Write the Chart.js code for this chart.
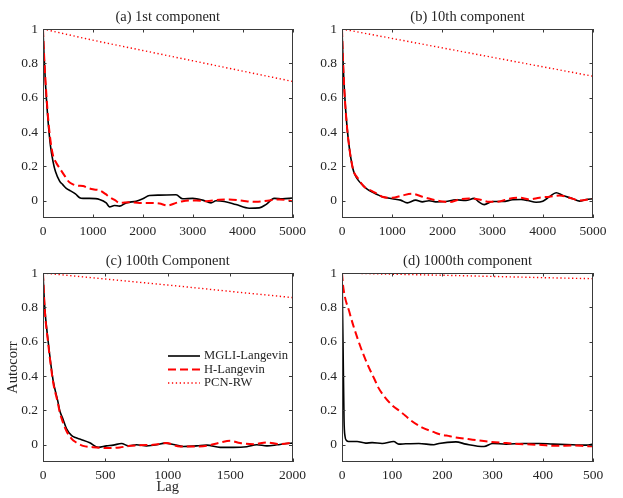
<!DOCTYPE html>
<html><head><meta charset="utf-8">
<script src="https://cdn.jsdelivr.net/npm/chart.js@4.4.1/dist/chart.umd.min.js"></script>
<style>
html,body{margin:0;padding:0;background:#fff;}
#wrap{position:relative;width:623px;height:498px;overflow:hidden;}
.cell{position:absolute;}
</style></head><body>
<div id="wrap">
<div class="cell" style="left:0;top:0;width:311px;height:240px"><canvas id="ca"></canvas></div>
<div class="cell" style="left:311px;top:0;width:312px;height:240px"><canvas id="cb"></canvas></div>
<div class="cell" style="left:0;top:240px;width:311px;height:258px"><canvas id="cc"></canvas></div>
<div class="cell" style="left:311px;top:240px;width:312px;height:258px"><canvas id="cd"></canvas></div>
</div>
<script>
// ---------- tick labels ----------
const yTicks = [0, 0.2, 0.4, 0.6, 0.8, 1];
const xTicksAB = [0, 1000, 2000, 3000, 4000, 5000];
const xTicksC = [0, 500, 1000, 1500, 2000];
const xTicksD = [0, 100, 200, 300, 400, 500];
const seriesNames = ['MGLI-Langevin', 'H-Langevin', 'PCN-RW'];
const titles = ['(a) 1st component', '(b) 10th component', '(c) 100th Component', '(d) 1000th component'];

// ---------- (a) 1st component ----------
const lagA_mgli = [0,20,50,100,150,200,250,333,400,467,550,650,735,800,933,1133,1267,1333,1433,1533,1667,1867,2000,2133,2333,2667,2800,3000,3200,3367,3467,3633,3867,4133,4333,4467,4633,4800,5000];
const valA_mgli = [1,0.85,0.68,0.47,0.32,0.23,0.17,0.115,0.093,0.072,0.058,0.04,0.018,0.014,0.014,0.008,-0.012,-0.035,-0.027,-0.031,-0.012,-0.002,0.012,0.031,0.033,0.035,0.012,0.014,0.004,-0.012,0,-0.004,-0.022,-0.043,-0.041,-0.022,0.014,0.012,0.016];
const lagA_h = [0,20,50,100,150,200,267,333,435,520,600,700,800,900,1000,1133,1250,1333,1450,1533,1733,1933,2133,2333,2500,2667,2800,3067,3267,3533,3733,4000,4267,4533,4733,5000];
const valA_h = [1,0.86,0.7,0.49,0.35,0.265,0.22,0.19,0.145,0.11,0.096,0.088,0.086,0.075,0.067,0.061,0.04,0.022,0.002,-0.012,-0.008,-0.012,-0.012,-0.016,-0.027,-0.012,-0.002,0.002,-0.002,0.006,0.008,0,-0.006,0.002,0.008,-0.002];
const lagA_pcn = [0,1000,2000,3000,4000,5000];
const valA_pcn = [1,0.935,0.875,0.815,0.755,0.695];

// ---------- (b) 10th component ----------
const lagB_mgli = [0,20,50,100,150,200,233,280,333,400,467,600,700,800,1000,1167,1300,1467,1600,1733,1867,2067,2267,2467,2633,2733,2833,3000,3200,3400,3567,3700,3867,4000,4133,4267,4400,4600,4733,4867,5000];
const valB_mgli = [1,0.82,0.63,0.43,0.3,0.21,0.17,0.14,0.116,0.095,0.076,0.051,0.037,0.024,0.012,0.004,-0.012,0.004,-0.006,0,-0.006,-0.004,0.006,0.002,0.014,-0.008,-0.022,-0.004,-0.004,0.006,0.008,0.002,-0.008,-0.002,0.024,0.047,0.031,0.012,-0.002,0.008,0.012];
const lagB_h = [0,20,50,100,150,200,233,280,333,400,467,600,700,800,1000,1200,1400,1600,1800,2000,2133,2333,2533,2733,2933,3133,3333,3533,3733,3933,4133,4333,4533,4733,5000];
const valB_h = [1,0.82,0.63,0.43,0.3,0.21,0.17,0.145,0.125,0.095,0.076,0.057,0.04,0.024,0.018,0.031,0.041,0.024,0.008,-0.004,-0.008,0.008,0.014,0.008,-0.006,-0.004,0.012,0.018,0.008,0.018,0.024,0.031,0.018,0.002,0.012];
const lagB_pcn = [0,1000,2000,3000,4000,5000];
const valB_pcn = [1,0.945,0.89,0.835,0.78,0.725];

// ---------- (c) 100th component ----------
const lagC_mgli = [0,13,40,80,120,134,160,188,228,260,300,375,442,509,563,630,683,750,830,911,978,1045,1125,1232,1313,1420,1527,1634,1714,1795,1875,1955,2000];
const valC_mgli = [1,0.81,0.61,0.38,0.25,0.2,0.15,0.095,0.055,0.042,0.032,0.012,-0.015,-0.006,-0.002,0.008,-0.006,0,-0.006,0,0.01,0.002,-0.01,-0.006,-0.002,-0.015,-0.015,-0.011,0,-0.006,0,0.008,0.01];
const lagC_h = [0,13,40,80,120,134,160,188,228,268,321,429,536,616,697,777,884,991,1098,1206,1313,1420,1500,1580,1688,1795,1902,2000];
const valC_h = [1,0.8,0.6,0.37,0.24,0.19,0.13,0.08,0.036,0.013,-0.006,-0.015,-0.019,-0.015,-0.006,-0.002,0,0.01,-0.01,-0.01,-0.006,0.013,0.023,0.01,0.004,0.013,0.004,0.013];
const lagC_pcn = [0,500,1000,1500,2000];
const valC_pcn = [1,0.965,0.93,0.893,0.857];

// ---------- (d) 1000th component ----------
const lagD_mgli = [0,2,4,6,9,13,30,47,60,80,103,113,127,153,183,193,227,247,283,300,327,360,393,420,460,487,500];
const valD_mgli = [1,0.6,0.15,0.05,0.025,0.019,0.019,0.01,0.013,0.008,0.019,0.004,0.006,0.008,0,0.008,0.017,0.004,-0.01,0.008,0.004,0.008,0.008,0.004,0,-0.002,0.004];
const lagD_h = [0,2,15,32,49,65,73,82,100,115,127,135,160,182,193,215,227,260,293,327,360,393,427,460,493,500];
const valD_h = [1,0.93,0.77,0.61,0.48,0.38,0.33,0.29,0.23,0.196,0.168,0.147,0.1,0.075,0.063,0.05,0.043,0.03,0.018,0.01,0.004,0,-0.006,-0.004,-0.008,-0.008];
const lagD_pcn = [0,100,200,300,400,500];
const valD_pcn = [1,0.993,0.987,0.98,0.973,0.967];

// ---------- helpers ----------
const TXT = '#262626';
const SERIF = '"Liberation Serif", "Times New Roman", serif';
function pts(l, v) { return l.map((x, i) => ({x: x, y: v[i]})); }
const styles = [
  {borderColor: '#000000', borderWidth: 1.6, borderDash: []},
  {borderColor: '#ff0000', borderWidth: 2, borderDash: [8, 4]},
  {borderColor: '#ff0000', borderWidth: 1.4, borderDash: [1.3, 2.6]}
];
function makeDatasets(groups) {
  return groups.map((g, i) => Object.assign({
    label: seriesNames[i], data: pts(g[0], g[1]), pointRadius: 0, fill: false,
    cubicInterpolationMode: 'monotone', order: 2 - i
  }, styles[i]));
}

const framePlugin = {
  id: 'frame',
  afterDatasetsDraw(chart, args, opts) {
    const {ctx, chartArea: a, scales: {x, y}} = chart;
    ctx.save();
    ctx.strokeStyle = '#3a3a3a';
    ctx.lineWidth = 1;
    ctx.setLineDash([]);
    ctx.strokeRect(Math.round(a.left) + 0.5, Math.round(a.top) + 0.5, Math.round(a.width) - 1, Math.round(a.height) - 1);
    const tl = 3.5;
    ctx.beginPath();
    x.ticks.forEach(t => {
      const px = Math.round(x.getPixelForValue(t.value)) + 0.5;
      ctx.moveTo(px, a.bottom); ctx.lineTo(px, a.bottom - tl);
      ctx.moveTo(px, a.top); ctx.lineTo(px, a.top + tl);
    });
    y.ticks.forEach(t => {
      const py = Math.round(y.getPixelForValue(t.value)) + 0.5;
      ctx.moveTo(a.left, py); ctx.lineTo(a.left + tl, py);
      ctx.moveTo(a.right, py); ctx.lineTo(a.right - tl, py);
    });
    ctx.stroke();
    // title
    ctx.fillStyle = TXT;
    ctx.font = '14.5px ' + SERIF;
    ctx.textAlign = 'center';
    ctx.textBaseline = 'middle';
    ctx.fillText(opts.title, (a.left + a.right) / 2, a.top - 12);
    // legend
    if (opts.legend) {
      const L = opts.legend;
      ctx.font = '12.6px ' + SERIF;
      ctx.textAlign = 'left';
      chart.data.datasets.forEach((ds, i) => {
        const yy = L.y + i * L.dy;
        ctx.beginPath();
        ctx.strokeStyle = ds.borderColor;
        ctx.lineWidth = ds.borderWidth;
        ctx.setLineDash(ds.borderDash);
        ctx.moveTo(L.x, yy); ctx.lineTo(L.x + L.len, yy);
        ctx.stroke();
        ctx.fillStyle = TXT;
        ctx.fillText(ds.label, L.x + L.len + 4, yy);
      });
    }
    ctx.restore();
  }
};

function makeChart(id, p) {
  new Chart(document.getElementById(id), {
    type: 'line',
    data: {datasets: makeDatasets(p.groups)},
    plugins: [framePlugin],
    options: {
      responsive: true, maintainAspectRatio: false, animation: false,
      layout: {padding: {top: p.padTop, right: p.padRight, left: 0, bottom: 0}},
      plugins: {legend: {display: false}, tooltip: {enabled: false},
        frame: {title: p.title, legend: p.legend}},
      scales: {
        x: {
          type: 'linear', min: 0, max: p.xMax,
          afterBuildTicks: s => { s.ticks = p.xTicks.map(v => ({value: v})); },
          afterFit: s => { s.height = p.xHeight; },
          grid: {display: false, drawTicks: false}, border: {display: false},
          ticks: {color: TXT, font: {family: SERIF, size: 13.5}, padding: 5, maxRotation: 0,
            callback: v => String(v)},
          title: {display: !!p.xTitle, text: p.xTitle || '', color: TXT,
            font: {family: SERIF, size: 14.5}, padding: {top: 0, bottom: 2}}
        },
        y: {
          type: 'linear', min: -0.1, max: 1,
          afterBuildTicks: s => { s.ticks = yTicks.map(v => ({value: v})); },
          afterFit: s => { s.width = p.yWidth; },
          grid: {display: false, drawTicks: false}, border: {display: false},
          ticks: {color: TXT, font: {family: SERIF, size: 13.5}, padding: 5,
            callback: v => String(v)},
          title: {display: !!p.yTitle, text: p.yTitle || '', color: TXT,
            font: {family: SERIF, size: 14.5}, padding: {top: 4, bottom: 0}}
        }
      }
    }
  });
}

makeChart('ca', {groups: [[lagA_mgli, valA_mgli], [lagA_h, valA_h], [lagA_pcn, valA_pcn]],
  title: titles[0], xMax: 5000, xTicks: xTicksAB, padTop: 29, padRight: 18, xHeight: 22, yWidth: 43});
makeChart('cb', {groups: [[lagB_mgli, valB_mgli], [lagB_h, valB_h], [lagB_pcn, valB_pcn]],
  title: titles[1], xMax: 5000, xTicks: xTicksAB, padTop: 29, padRight: 30, xHeight: 22, yWidth: 31});
makeChart('cc', {groups: [[lagC_mgli, valC_mgli], [lagC_h, valC_h], [lagC_pcn, valC_pcn]],
  title: titles[2], xMax: 2000, xTicks: xTicksC, padTop: 33, padRight: 18, xHeight: 36, yWidth: 43,
  xTitle: 'Lag', yTitle: 'Autocorr', legend: {x: 168, y: 116, dy: 13.5, len: 32}});
makeChart('cd', {groups: [[lagD_mgli, valD_mgli], [lagD_h, valD_h], [lagD_pcn, valD_pcn]],
  title: titles[3], xMax: 500, xTicks: xTicksD, padTop: 33, padRight: 30, xHeight: 36, yWidth: 31});
</script>
</body></html>
